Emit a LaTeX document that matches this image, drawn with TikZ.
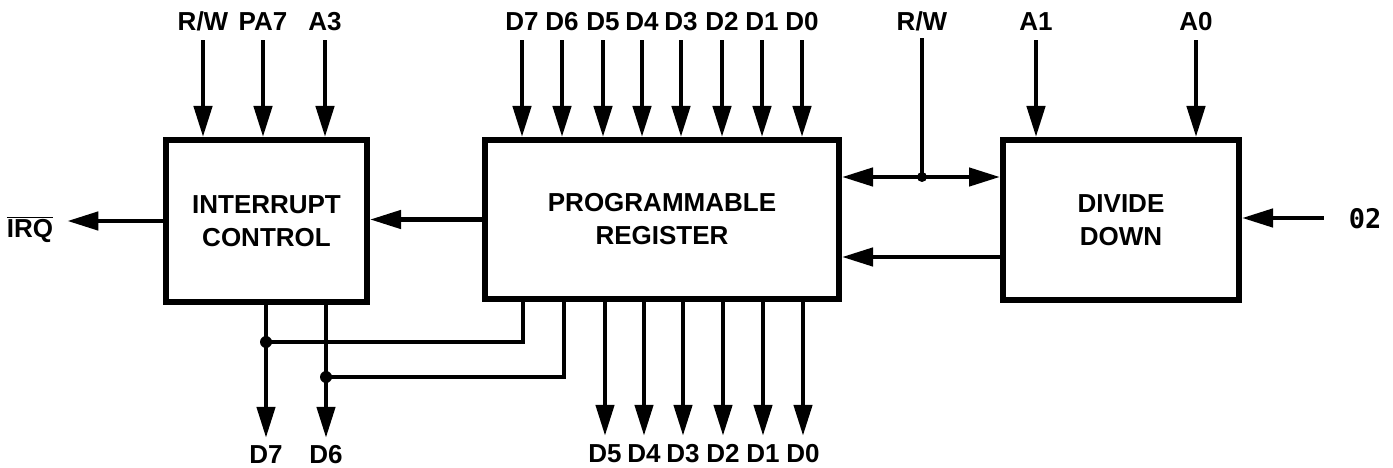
\documentclass[tikz,border=0pt]{standalone}
\usepackage{fontspec}
\setmainfont{Liberation Sans}
\newfontfamily\monofnt{DejaVu Sans Mono}
\usetikzlibrary{arrows.meta}
\newcommand\ovbar[1]{$\overline{\hbox{#1}}$}
\begin{document}
\begin{tikzpicture}[x=1pt,y=-1pt,
  box/.style={draw, line width=6pt, inner sep=0, align=center,
    font=\bfseries\fontsize{26}{33}\selectfont},
  wire/.style={line width=4.5pt},
  arr/.style={wire, -{Triangle[length=31pt,width=18pt]}},
  lbl/.style={font=\bfseries\fontsize{26}{26}\selectfont, inner sep=0,
    text height=18pt, text depth=0pt, anchor=base},
  dot/.style={circle, fill, inner sep=0, minimum size=12pt}]
\useasboundingbox (0,0) rectangle (1393,468);

% blocks
\node[box, minimum width=201pt, minimum height=162pt] (ic) at (266.5,221) {INTERRUPT\\CONTROL};
\node[box, minimum width=354pt, minimum height=159pt] (pr) at (662,219.5) {PROGRAMMABLE\\REGISTER};
\node[box, minimum width=236pt, minimum height=160pt] (dd) at (1121,220) {DIVIDE\\DOWN};

% inputs to interrupt control
\node[lbl] (iRW) at (203,31) {R/W};
\node[lbl] (iPA) at (263,31) {PA7};
\node[lbl] (iA3) at (325,31) {A3};
\foreach \n in {iRW,iPA,iA3}
  \draw[arr, shorten <=9pt] (\n.south) -- (\n.south |- ic.north);

% IRQ output
\node[lbl] (irq) at (30,237) {\ovbar{IRQ}};
\draw[arr, shorten >=14pt] (ic.west) -- (ic.west -| irq.east);

% data inputs to register
\foreach \x/\t in {522/7,562/6,603/5,642/4,681/3,722/2,762/1,802/0}{
  \node[lbl] (iD\t) at (\x,31) {D\t};
  \draw[arr, shorten <=9pt] (iD\t.south) -- (iD\t.south |- pr.north);
}

% data outputs from register
\foreach \x/\t in {605/5,644/4,683/3,723/2,763/1,803/0}{
  \node[lbl] (oD\t) at (\x,462) {D\t};
  \draw[arr, shorten >=8pt] (oD\t.north |- pr.south) -- (oD\t.north);
}

% register to interrupt control
\draw[arr] (pr.west) -- (pr.west -| ic.east);

% D7 / D6 outputs of interrupt control
\node[lbl] (oD7) at (266,463) {D7};
\node[lbl] (oD6) at (326,463) {D6};
\coordinate (j7) at (266,342);
\coordinate (j6) at (326,377);
\coordinate (t7) at (523,342);
\coordinate (t6) at (564,377);
\draw[arr, shorten >=7pt] (oD7.north |- ic.south) -- (oD7.north);
\draw[arr, shorten >=7pt] (oD6.north |- ic.south) -- (oD6.north);
\draw[wire] (t7 |- pr.south) -- (t7) -- (j7);
\draw[wire] (t6 |- pr.south) -- (t6) -- (j6);
\node[dot] (dj7) at (j7) {};
\node[dot] (dj6) at (j6) {};

% R/W bus between register and divide down
\node[lbl] (iRW2) at (922,31) {R/W};
\coordinate (jrw) at (922,177);
\draw[wire, shorten <=7pt] (iRW2.south) -- (jrw);
\draw[arr] (jrw) -- (jrw -| pr.east);
\draw[arr] (jrw) -- (jrw -| dd.west);
\node[dot, minimum size=10pt] (djrw) at (jrw) {};

% divide down back to register
\coordinate (low) at (0,257);
\draw[arr] (dd.west |- low) -- (pr.east |- low);

% A1 / A0
\node[lbl] (iA1) at (1036,31) {A1};
\node[lbl] (iA0) at (1196,31) {A0};
\draw[arr, shorten <=9pt] (iA1.south) -- (iA1.south |- dd.north);
\draw[arr, shorten <=9pt] (iA0.south) -- (iA0.south |- dd.north);

% clock input
\node[lbl, font=\monofnt\bfseries\fontsize{27}{27}\selectfont, text height=20pt] (phi) at (1365,228) {02};
\draw[arr, shorten <=25pt] (phi.west) -- (phi.west -| dd.east);
\end{tikzpicture}
\end{document}
